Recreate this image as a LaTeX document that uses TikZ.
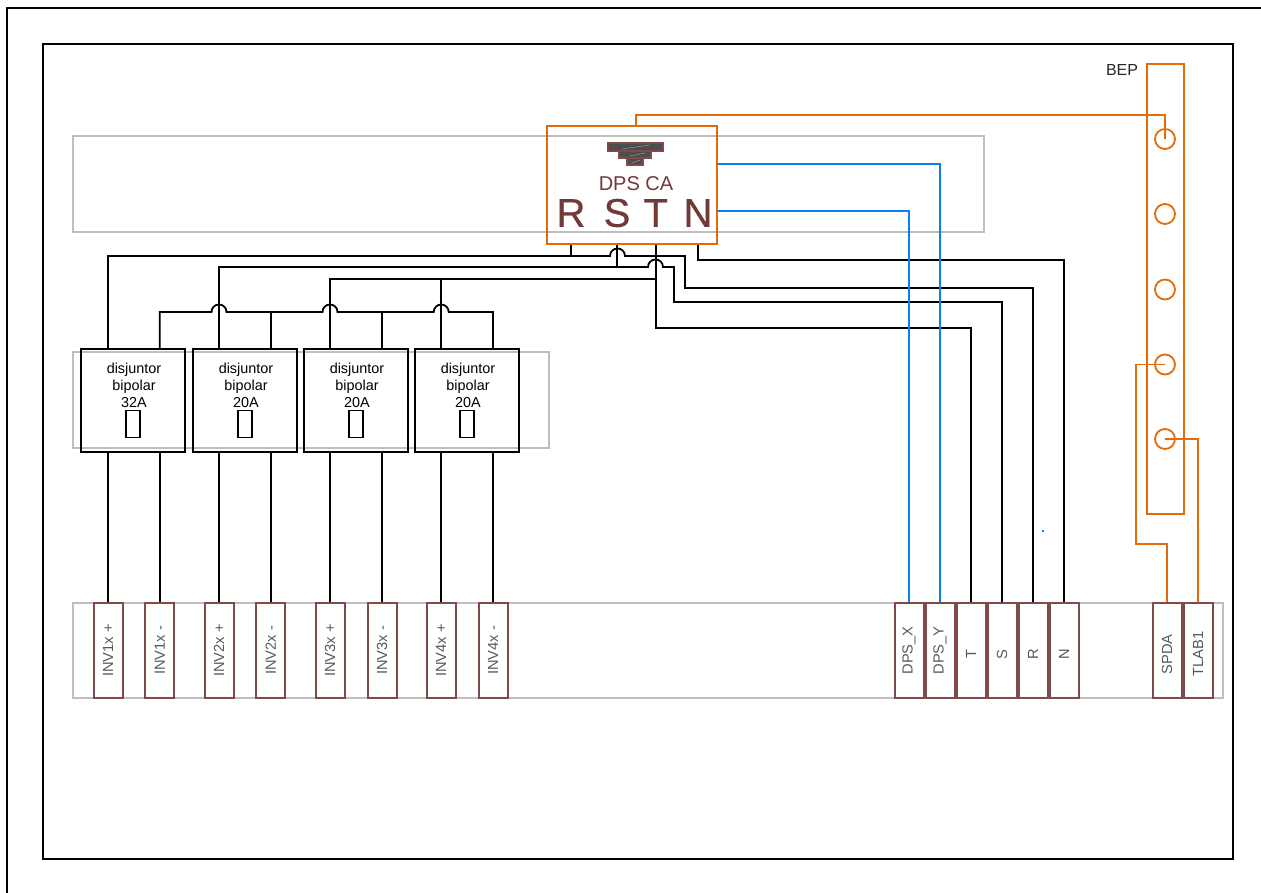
\documentclass[tikz,border=0pt]{standalone}
\usepackage{fontspec}
\setmainfont{Liberation Sans}
\newfontfamily\phasefont[FakeBold=0.6]{Liberation Sans}
\usepackage{tikz}
\definecolor{dpsorange}{HTML}{E36C09}
\definecolor{dpsblue}{HTML}{0F7FEF}
\definecolor{railgray}{HTML}{BFBFBF}
\definecolor{termred}{HTML}{7F4A4A}
\definecolor{dpsred}{HTML}{733838}
\definecolor{earthgray}{HTML}{4D4D4D}
\definecolor{termtext}{HTML}{595959}

\begin{document}
\begin{tikzpicture}[x=0.75pt,y=-0.75pt,
    frame/.style={draw=black,line width=1.35pt},
    rail/.style={draw=railgray,line width=1.35pt},
    wire/.style={draw=black,line width=1.35pt},
    bluewire/.style={draw=dpsblue,line width=1.35pt},
    orangewire/.style={draw=dpsorange,line width=1.35pt},
    breaker/.style={draw=black,line width=1.35pt,minimum width=78pt,minimum height=77.25pt,inner sep=0pt},
    toggle/.style={draw=black,line width=1.35pt,minimum width=10.5pt,minimum height=20.25pt,inner sep=0pt},
    terminal/.style={draw=termred,line width=1.5pt,fill=white,minimum width=21.75pt,minimum height=71.25pt,
      inner sep=0pt,text=termtext,font=\fontsize{11}{11}\selectfont},
    phase/.style={text=dpsred,inner sep=0pt,font=\phasefont\fontsize{30}{30}\selectfont},
    earthbar/.style={draw=termred,line width=0.8pt,fill=earthgray},
    scratch/.style={draw=gray!70,line width=0.3pt},
    lug/.style={circle,draw=dpsorange,line width=1.35pt,minimum size=15pt,inner sep=0pt}]
  \useasboundingbox (0,0) rectangle (1261,893);
  \draw[frame] (1261,8) -- (7,8) -- (7,893);
  \draw[frame] (43,44) rectangle (1233,859);
  \draw[rail] (73,136) rectangle (984,232);
  \draw[rail] (73,352) rectangle (549,448);
  \draw[rail] (73,603) rectangle (1223,698);

  \foreach \name/\posx/\txt in {inva/108/INV1x +,invb/159.8/INV1x -,invc/219/INV2x +,invd/270.8/INV2x -,
      inve/330/INV3x +,invf/382/INV3x -,invg/441.2/INV4x +,invh/493/INV4x -,
      dpsx/909/DPS\_X,dpsy/940/DPS\_Y,termt/971/T\hspace{6pt},terms/1002/S\hspace{6pt},
      termr/1033/R\hspace{6pt},termn/1064/N\hspace{6pt},
      spda/1167/SPDA\hspace{6pt},tlab/1198/TLAB1\hspace{5pt}}
    \node[terminal] (\name) at (\posx,650.5) {\rotatebox{90}{\txt}};

  \foreach \name/\posx/\amps in {dja/133/32A,djb/245/20A,djc/356/20A,djd/467/20A} {
    \node[breaker] (\name) at (\posx,400.5) {};
    \node[align=center,inner sep=0pt,font=\fontsize{10.8}{12.75}\selectfont] (\name txt) at (\posx+1,385) {disjuntor\\bipolar\\\amps};
    \node[toggle] (\name tog) at (\posx,424) {};
  }

  \node[draw=dpsorange,line width=1.5pt,minimum width=127.5pt,minimum height=88.5pt,inner sep=0pt] (dps) at (632,185) {};
  \node[text=dpsred,inner sep=0pt,font=\fontsize{15}{15}\selectfont] (dpslabel) at (636,184) {DPS CA};
  \node[phase] (phr) at (571,213) {R};
  \node[phase] (phs) at (617,213) {S};
  \node[phase] (pht) at (655.8,213) {T};
  \node[phase] (phn) at (698,213) {N};
  \draw[earthbar] (608,143) rectangle (663,151);
  \draw[earthbar] (619,151) rectangle (651,158);
  \draw[earthbar] (627,158) rectangle (643,165);
  \draw[scratch] (622,149) -- (650,145);
  \draw[scratch] (630,156) -- (645,153);
  \draw[scratch] (632,163) -- (640,160);

  \draw[orangewire] (1147,64) rectangle (1184,514);
  \node[inner sep=0pt,text=black!85,font=\fontsize{12}{12}\selectfont] (beplabel) at (1122,70) {BEP};
  \foreach \name/\posy in {luga/139,lugb/214,lugc/289.5,lugd/364.5,luge/439}
    \node[lug] (\name) at (1165,\posy) {};
  \node[draw=none,fill=dpsblue,minimum size=1.2pt,inner sep=0pt] (dotmark) at (1043,531) {};

  % fases do DPS
  \draw[wire] (dps.south -| phr) -- ++(0,12);
  \draw[wire] (dja.north -| inva) |- (610,256) arc (180:360:7.5) -| (685,288) -| (termr.north);
  \draw[wire] (dps.south -| phs) -- (phs |- 0,267);
  \draw[wire] (djb.north -| invc) |- (648,267) arc (180:360:7.5) -| (674,302) -| (terms.north);
  \draw[wire] (dps.south -| pht) |- (971,328) -- (termt.north);
  \draw[wire] (djc.north -| inve) |- (pht |- 0,279);
  \draw[wire] (djd.north -| invg) -- (invg |- 0,279);
  \draw[wire] (dps.south -| phn) |- (1064,260) -- (termn.north);

  % neutro dos disjuntores
  \draw[wire] (dja.north -| invb) |- (211.5,312) arc (180:360:7.5) -- (322.5,312) arc (180:360:7.5)
    -- (433.7,312) arc (180:360:7.5) -| (djd.north -| invh);
  \draw[wire] (djb.north -| invd) -- (invd |- 0,312);
  \draw[wire] (djc.north -| invf) -- (invf |- 0,312);

  \foreach \name/\top in {inva/dja,invb/dja,invc/djb,invd/djb,inve/djc,invf/djc,invg/djd,invh/djd}
    \draw[wire] (\name.north) -- (\name.north |- \top.south);

  \draw[bluewire] (717,164) -| (dpsy.north);
  \draw[bluewire] (717,211) -| (dpsx.north);
  \draw[orangewire] (636,126) |- (1165,115) -- (luga.center);
  \draw[orangewire] (lugd.center) -| (1136,544) -| (spda.north);
  \draw[orangewire] (luge.center) -| (tlab.north);
\end{tikzpicture}
\end{document}
